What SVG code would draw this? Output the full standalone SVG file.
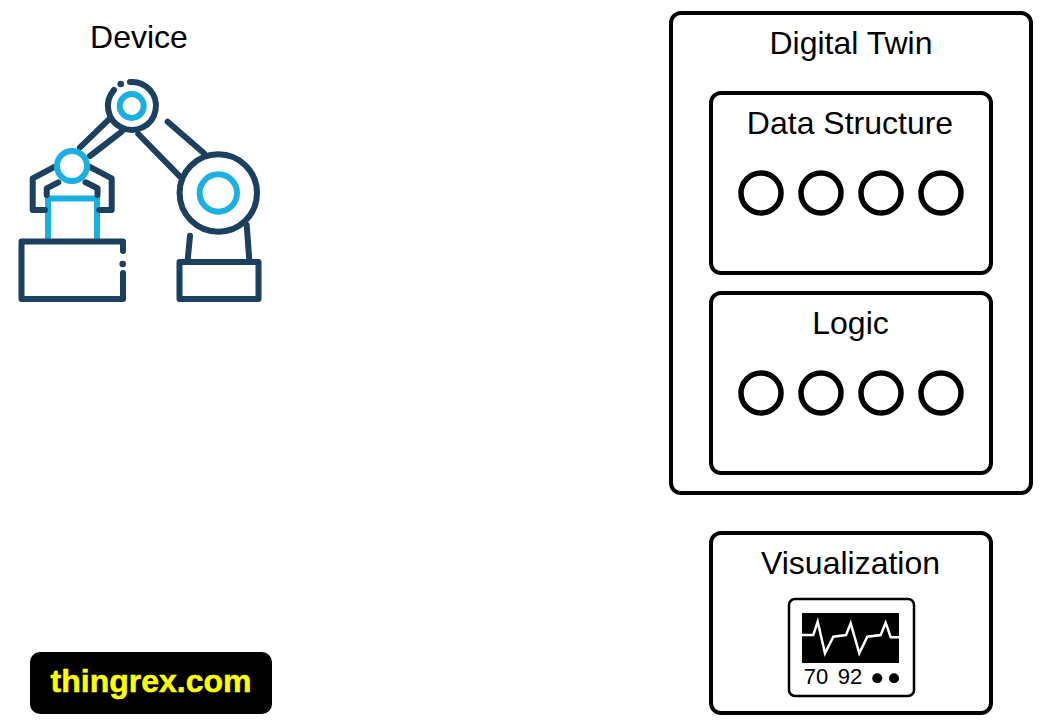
<svg xmlns="http://www.w3.org/2000/svg" width="1042" height="724" viewBox="0 0 1042 724">
<defs>
<style>
.label{font-family:"Liberation Sans",Arial,sans-serif;font-size:32px;fill:#000;text-anchor:middle}
.box{fill:#fff;stroke:#000;stroke-width:4}
.dot{fill:#fff;stroke:#000;stroke-width:5.500}
.dk{fill:none;stroke:#1c3f5f;stroke-width:6;stroke-linecap:round;stroke-linejoin:round}
.bl{fill:none;stroke:#1fb0e2;stroke-width:6}
</style>
<filter id="soft" x="-5%" y="-5%" width="110%" height="110%"><feGaussianBlur stdDeviation="0.7"/></filter>
</defs>
<rect width="1042" height="724" fill="#fff"/>
<g id="device">
<text class="label" x="139" y="48">Device</text>
<g id="robot" filter="url(#soft)">
<path class="bl" d="M48,241V198.500H97V241"/>
<path class="dk" d="M80,147.300L110,118.300M90,156L121.700,131.700M138.300,134L180,176.700M167.700,121.700L204,153.300"/>
<path class="dk" d="M55,166.700L32.700,178.300V210H45M89.300,166.700L111.700,178.300V210H99.300M58.300,182.300L46.700,188.300V195M85.500,182.300L97.500,188.300V195"/>
<path class="dk" d="M123,251V241.500H21.500V299H123V273"/>
<circle cx="122.700" cy="264" r="3.300" fill="#1c3f5f"/>
<rect class="dk" x="179.500" y="262" width="79" height="37"/>
<path class="dk" d="M190,235.700L187.700,260M246.700,225L249.300,260"/>
<circle cx="218.300" cy="193" r="38.700" fill="#fff" stroke="#1c3f5f" stroke-width="6"/>
<circle class="bl" cx="218.300" cy="193" r="18.700"/>
<path class="dk" d="M130,82A24,24 0 1 1 114,90"/>
<circle cx="120.700" cy="84" r="3.300" fill="#1c3f5f"/>
<circle class="bl" cx="131.700" cy="106" r="12"/>
<circle cx="72" cy="166" r="15" fill="#fff" stroke="#1fb0e2" stroke-width="6"/>
</g>
</g>
<g id="digital-twin">
<rect class="box" x="671" y="13" width="360" height="480" rx="10"/>
<text class="label" x="851" y="54">Digital Twin</text>
</g>
<g id="data-structure">
<rect class="box" x="711" y="93" width="280" height="180" rx="10"/>
<text class="label" x="850" y="134">Data Structure</text>
<circle class="dot" cx="761" cy="193" r="20"/>
<circle class="dot" cx="821" cy="193" r="20"/>
<circle class="dot" cx="881" cy="193" r="20"/>
<circle class="dot" cx="941" cy="193" r="20"/>
</g>
<g id="logic">
<rect class="box" x="711" y="293" width="280" height="180" rx="10"/>
<text class="label" x="850.500" y="334">Logic</text>
<circle class="dot" cx="761" cy="393" r="20"/>
<circle class="dot" cx="821" cy="393" r="20"/>
<circle class="dot" cx="881" cy="393" r="20"/>
<circle class="dot" cx="941" cy="393" r="20"/>
</g>
<g id="visualization">
<rect class="box" x="711" y="533" width="280" height="180" rx="10"/>
<text class="label" x="850.500" y="574">Visualization</text>
<rect x="789" y="599" width="125" height="97" rx="6" fill="#fff" stroke="#000" stroke-width="2.500"/>
<rect x="802" y="613" width="97" height="50" fill="#000"/>
<polyline points="802,635 813.300,635 817.700,621.700 825,653.300 833.300,636.700 846,635 850.700,623.300 859.300,653.300 867.300,636.700 880.700,635 885.700,622.700 890.700,637.300 899,637.300" fill="none" stroke="#fff" stroke-width="2.500"/>
<text x="816" y="684" font-family="'Liberation Sans',Arial,sans-serif" font-size="22" text-anchor="middle">70</text>
<text x="850" y="684" font-family="'Liberation Sans',Arial,sans-serif" font-size="22" text-anchor="middle">92</text>
<circle cx="877.300" cy="678.300" r="5"/>
<circle cx="894" cy="678.300" r="5"/>
</g>
<g id="badge">
<rect x="30" y="652" width="242" height="62" rx="10" fill="#000"/>
<text x="151" y="692" font-family="'Liberation Sans',Arial,sans-serif" font-size="32" font-weight="700" fill="#ff0" stroke="#ff0" stroke-width="0.500" text-anchor="middle">thingrex.com</text>
</g>
</svg>
